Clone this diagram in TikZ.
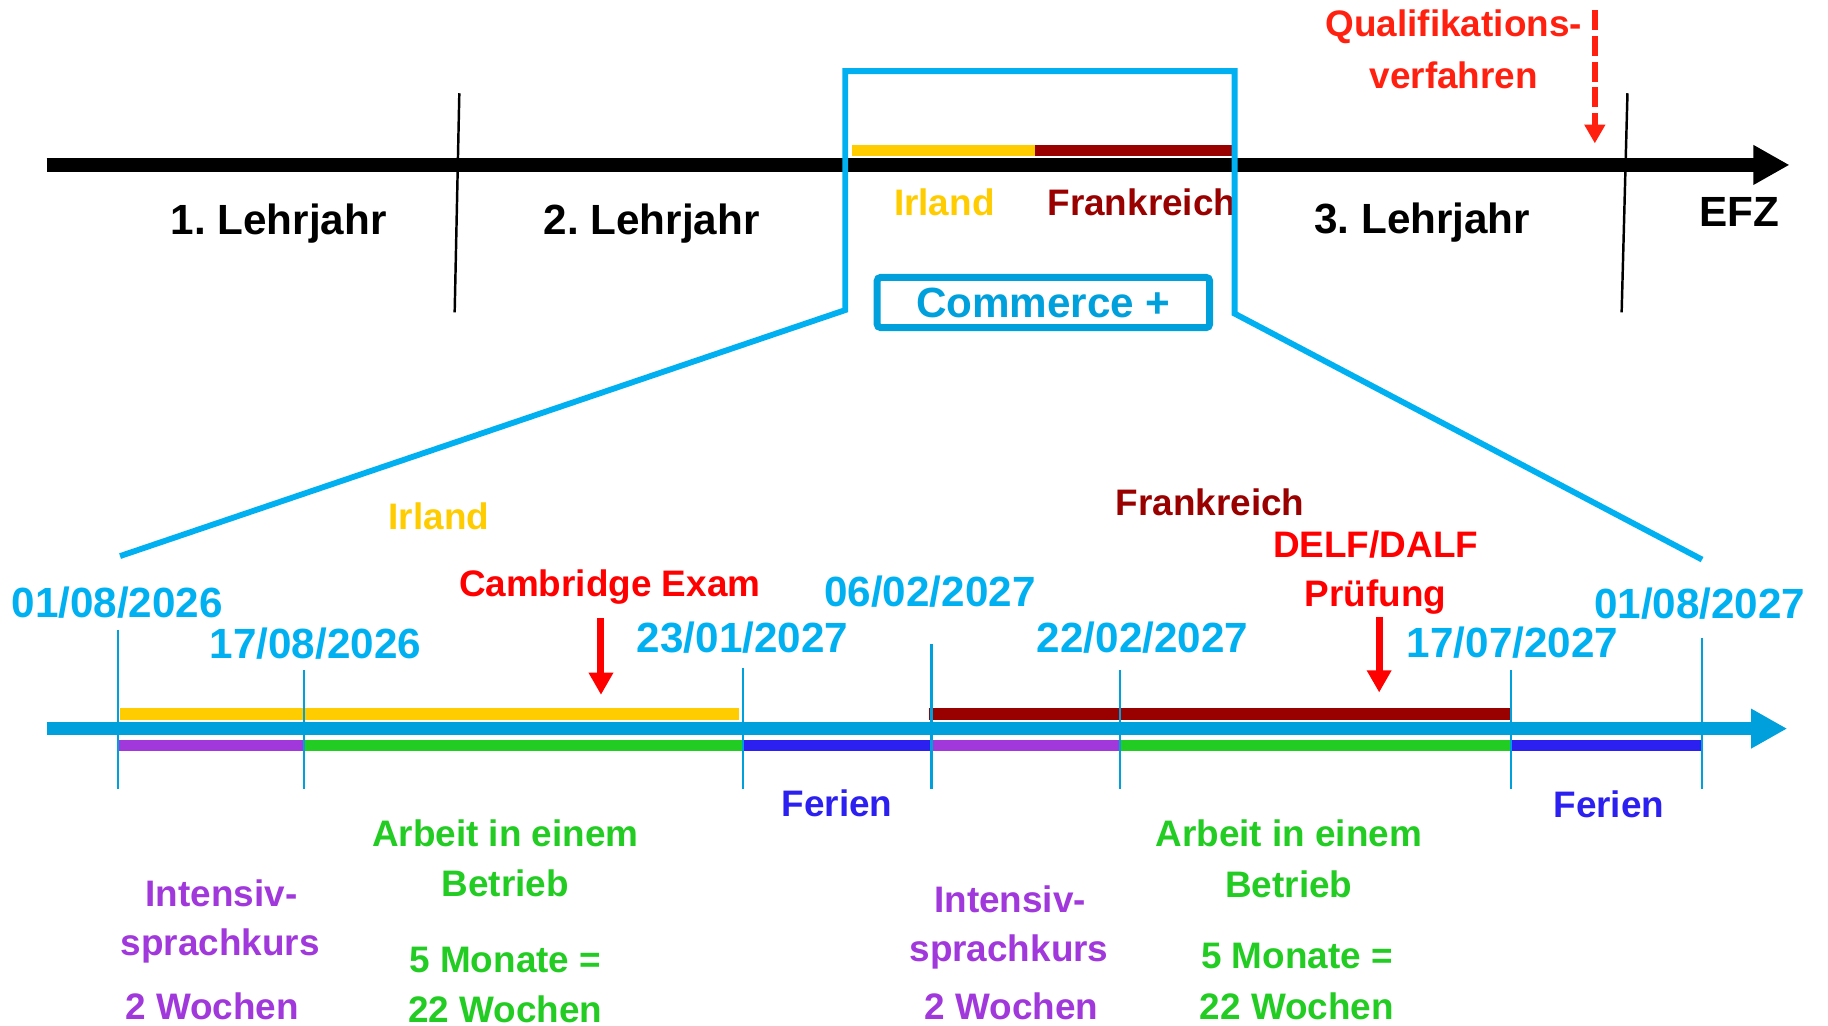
\documentclass[tikz,border=0pt]{standalone}
\usepackage{fontspec}
\setmainfont{Liberation Sans}
\usetikzlibrary{arrows.meta, positioning, calc}
\frenchspacing

\definecolor{datecyan}{RGB}{0,176,240}
\definecolor{boxblue}{RGB}{0,160,220}
\definecolor{axisblue}{RGB}{0,160,220}
\definecolor{gold}{RGB}{255,204,0}
\definecolor{darkred}{RGB}{153,0,0}
\definecolor{lila}{RGB}{160,56,220}
\definecolor{gruen}{RGB}{34,204,34}
\definecolor{ferienblau}{RGB}{44,32,240}
\definecolor{qvred}{RGB}{255,32,16}

\begin{document}
\begin{tikzpicture}[x=0.01cm, y=-0.01cm,
    lbl/.style={font=\fontsize{9}{11}\selectfont\bfseries, inner sep=0pt, anchor=base},
    big/.style={lbl, font=\fontsize{10.3}{12}\selectfont\bfseries},
    date/.style={big, text=datecyan},
    axis/.style={line width=0.114cm, -{Triangle[length=0.31cm, width=0.32cm]}},
    bar/.style={line width=0.1cm},
    tick/.style={draw=axisblue, line width=0.5pt},
    sep/.style={line width=0.6pt},
    zoomline/.style={draw=datecyan, line width=0.05cm},
    commbox/.style={draw=boxblue, text=boxblue, line width=0.06cm, rounded corners=0.03cm,
      minimum width=2.85cm, minimum height=0.43cm, inner sep=0pt,
      font=\fontsize{10.3}{12}\selectfont\bfseries},
    exam/.style={draw=red, line width=0.06cm, -{Triangle[length=0.19cm, width=0.2cm]}},
    qvarrow/.style={draw=qvred, line width=0.05cm, dash pattern=on 0.17cm off 0.05cm,
      -{Triangle[length=0.16cm, width=0.17cm]}},]

\useasboundingbox (0,0) rectangle (1568,880);

% Upper timeline (apprenticeship)

\coordinate (top_start) at (40,141.5);
\coordinate (top_end) at (1535,141.5);
\draw[axis] (top_start) -- (top_end);

% year separators
\coordinate (sep1_top) at (394,80);
\coordinate (sep1_bot) at (390,268);
\coordinate (sep2_top) at (1396,80);
\coordinate (sep2_bot) at (1391,268);
\draw[sep] (sep1_top) -- (sep1_bot);
\draw[sep] (sep2_top) -- (sep2_bot);

\node[big] (lj1) at (239,201.5) {1. Lehrjahr};
\node[big] (lj2) at (559,201.5) {2. Lehrjahr};
\node[big] (lj3) at (1220,200) {3. Lehrjahr};
\node[big] (efz) at (1492,194) {EFZ};

% stay abroad on the upper timeline
\coordinate (ab_start) at (731,129);
\coordinate (ab_mid) at (888,129);
\coordinate (ab_end) at (1057,129);
\draw[bar, gold] (ab_start) -- (ab_mid);
\draw[bar, darkred] (ab_mid) -- (ab_end);
\node[lbl, text=gold] (irl_top) at (810,185) {Irland};
\node[lbl, text=darkred] (fr_top) at (979.5,185) {Frankreich};

% qualification procedure
\node[lbl, text=qvred] (qv1) at (1247,31) {Qualifikations-};
\node[lbl, text=qvred] (qv2) at ([yshift=-0.448cm]qv1.base) {verfahren};
\coordinate (qv_start) at (1368,9);
\coordinate (qv_tip) at (1368,123);
\draw[qvarrow] (qv_start) -- (qv_tip);

% zoom bracket down to the lower timeline
\coordinate (br_bl) at (725,266);
\coordinate (br_tl) at (725,61);
\coordinate (br_tr) at (1059,61);
\coordinate (br_br) at (1059,269);
\coordinate (zoom_l) at (103,477);
\coordinate (zoom_r) at (1460,480);
\draw[zoomline] (zoom_l) -- (br_bl) -- (br_tl) -- (br_tr) -- (br_br) -- (zoom_r);

\node[commbox] (comm) at (895,259.5) {Commerce +};


% Lower timeline (Commerce + year)

\coordinate (low_start) at (40,625);
\coordinate (low_end) at (1533,625);
\draw[axis, axisblue, line width=0.11cm] (low_start) -- (low_end);

\foreach \x/\t [count=\i] in {101/540, 261/575, 637/573, 799/552, 961/575, 1296/575, 1460/547} {
    \coordinate (tk\i-top) at (\x,\t);
    \coordinate (tk\i-bot) at (\x,677);
}

% countries above the axis
\coordinate (upper) at (0,612.5);
\coordinate (lower) at (0,639.5);
\draw[bar, gold, shorten <=0.02cm, shorten >=0.03cm] (tk1-top |- upper) -- (tk3-top |- upper);
\draw[bar, darkred, shorten <=-0.02cm] (tk4-top |- upper) -- (tk6-top |- upper);

% activities below the axis
\foreach \a/\b/\col in {1/2/lila, 2/3/gruen, 3/4/ferienblau, 4/5/lila, 5/6/gruen, 6/7/ferienblau} {
    \draw[bar, draw=\col] (tk\a-top |- lower) -- (tk\b-top |- lower);
}

% tick marks
\foreach \i in {1,...,7} {
    \draw[tick] (tk\i-top) -- (tk\i-bot);
}

% dates
\node[date] (d1) at (100.6,529.5) {01/08/2026};
\node[date] (d2) at (270.6,564.7) {17/08/2026};
\node[date] (d3) at (637,560) {23/01/2027};
\node[date] (d4) at (797.7,520) {06/02/2027};
\node[date] (d5) at (980,560) {22/02/2027};
\node[date] (d6) at (1297.5,563.7) {17/07/2027};
\node[date] (d7) at (1458,530.4) {01/08/2027};

\node[lbl, text=gold] (irl) at (376.5,454.6) {Irland};
\node[lbl, text=darkred] (fr) at (1038,441.8) {Frankreich};

% exams
\node[lbl, text=red] (camb) at (523,511.8) {Cambridge Exam};
\coordinate (camb_top) at (515.5,530);
\coordinate (camb_tip) at (515.5,596);
\draw[exam] (camb_top) -- (camb_tip);

\node[lbl, text=red] (delf1) at (1180,478) {DELF/DALF};
\node[lbl, text=red] (delf2) at ([yshift=-0.42cm]delf1.base) {Prüfung};
\coordinate (delf_top) at (1183,529);
\coordinate (delf_tip) at (1183,594);
\draw[exam] (delf_top) -- (delf_tip);

% holidays
\node[lbl, text=ferienblau] (fe1) at (718,700.5) {Ferien};
\node[lbl, text=ferienblau] (fe2) at (1380,701.4) {Ferien};

% work placements
\node[lbl, text=gruen] (ar1a) at (433.5,725.7) {Arbeit in einem};
\node[lbl, text=gruen] (ar1b) at ([yshift=-0.433cm]ar1a.base) {Betrieb};
\node[lbl, text=gruen] (ar1c) at ([yshift=-0.654cm]ar1b.base) {5 Monate =};
\node[lbl, text=gruen] (ar1d) at ([yshift=-0.428cm]ar1c.base) {22 Wochen};

\node[lbl, text=gruen] (ar2a) at (1105.5,726.3) {Arbeit in einem};
\node[lbl, text=gruen] (ar2b) at ([yshift=-0.434cm]ar2a.base) {Betrieb};
\node[lbl, text=gruen] (ar2c) at ([xshift=0.07cm, yshift=-0.609cm]ar2b.base) {5 Monate =};
\node[lbl, text=gruen] (ar2d) at ([yshift=-0.438cm]ar2c.base) {22 Wochen};

% language courses
\node[lbl, text=lila] (ik1a) at (190,777.2) {Intensiv-};
\node[lbl, text=lila] (ik1b) at ([xshift=-0.01cm, yshift=-0.42cm]ik1a.base) {sprachkurs};
\node[lbl, text=lila] (ik1c) at ([xshift=-0.07cm, yshift=-0.552cm]ik1b.base) {2 Wochen};

\node[lbl, text=lila] (ik2a) at (866.5,782.9) {Intensiv-};
\node[lbl, text=lila] (ik2b) at ([xshift=-0.01cm, yshift=-0.42cm]ik2a.base) {sprachkurs};
\node[lbl, text=lila] (ik2c) at ([xshift=0.02cm, yshift=-0.495cm]ik2b.base) {2 Wochen};

\end{tikzpicture}
\end{document}
